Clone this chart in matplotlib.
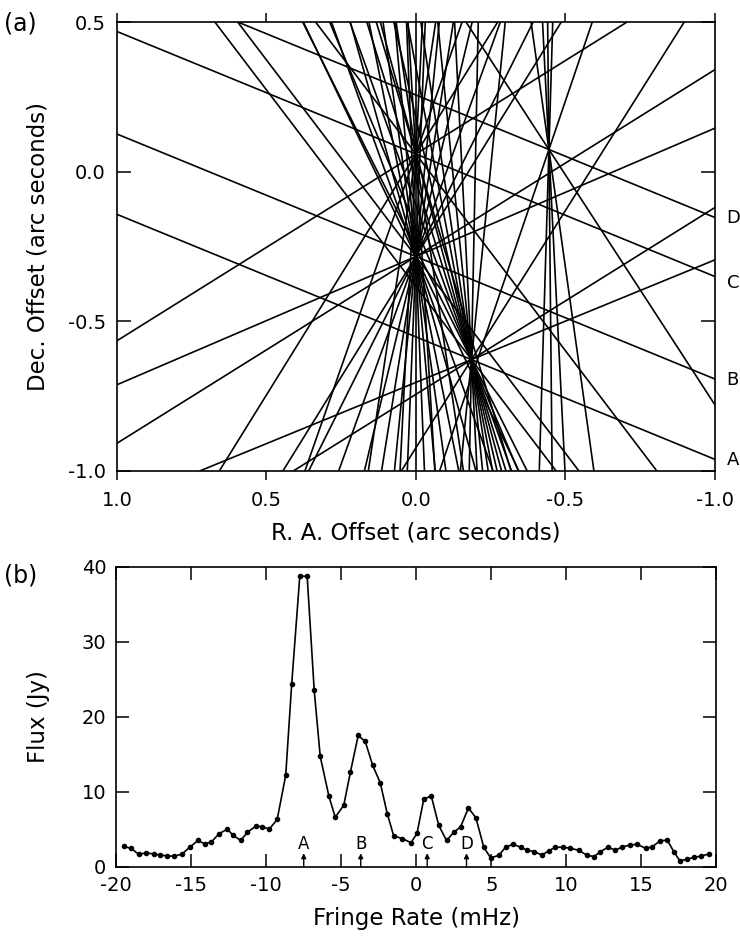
import matplotlib.pyplot as plt
from matplotlib.transforms import blended_transform_factory

plt.rcParams['font.family'] = 'DejaVu Sans'
plt.rcParams['axes.unicode_minus'] = False

# ---------------- (a) fringe-rate constraint lines ----------------
# every feature (A-D) has a position, and each line through it is given
# by its inverse slope dRA/dDec
feat_labels = ['A', 'B', 'C', 'D']
feat_ra = [-0.186, 0.0, 0.0, -0.445]
feat_dec = [-0.628, -0.283, 0.06, 0.075]

k_A = [2.44, -2.44, -1.6, -0.63, 0.76,
       -0.1, -0.02, 0.05, 0.1, 0.15, 0.19, 0.23, 0.27, 0.31, 0.36, 0.42, 0.5]
k_B = [2.44, -2.33, -1.6, -0.62, 0.76,
       -0.5, -0.36, -0.24, -0.16, -0.1, -0.04, 0.0, 0.04, 0.09, 0.14, 0.2,
       0.28, 0.36, 0.48]
k_C = [2.44, -1.6, -0.62, 0.76,
       -0.35, -0.15, -0.05, 0.06, 0.15, 0.3]
k_D = [2.44, 0.65, -0.34, -0.03, 0.01, 0.05, 0.14]
k_lists = [k_A, k_B, k_C, k_D]

# dec where the labelled lines (one spectrum) hit the right border
edge_dec = [-0.963, -0.695, -0.372, -0.154]

ra_ticks = [1.0, 0.5, 0.0, -0.5, -1.0]
dec_ticks = [-1.0, -0.5, 0.0, 0.5]

# ---------------- (b) fringe-rate spectrum ----------------
rate = [-19.5, -19.0, -18.5, -18.0, -17.5, -17.05, -16.6, -16.15, -15.6, -15.1,
        -14.55, -14.1, -13.65, -13.15, -12.6, -12.2, -11.7, -11.25, -10.7, -10.25,
        -9.8, -9.27, -8.7, -8.3, -7.76, -7.27, -6.8, -6.4, -5.82, -5.4,
        -4.83, -4.39, -3.87, -3.4, -2.9, -2.4, -1.93, -1.5, -0.92, -0.35,
        0.05, 0.5, 1.0, 1.5, 2.02, 2.5, 2.95, 3.48, 3.98, 4.5,
        4.95, 5.5, 5.95, 6.46, 6.95, 7.4, 7.88, 8.39, 8.84, 9.28,
        9.8, 10.28, 10.84, 11.35, 11.84, 12.28, 12.77, 13.28, 13.73, 14.28,
        14.73, 15.28, 15.73, 16.24, 16.73, 17.17, 17.57, 18.06, 18.5, 18.95, 19.5]
flux = [2.7, 2.45, 1.65, 1.85, 1.7, 1.55, 1.45, 1.4, 1.7, 2.6,
        3.5, 3.05, 3.3, 4.4, 5.0, 4.2, 3.5, 4.6, 5.4, 5.35,
        5.0, 6.3, 12.2, 24.4, 38.8, 38.7, 23.5, 14.7, 9.4, 6.6,
        8.2, 12.6, 17.5, 16.7, 13.5, 11.2, 7.05, 4.1, 3.75, 3.2,
        4.45, 9.0, 9.45, 5.5, 3.5, 4.6, 5.3, 7.85, 6.5, 2.6,
        1.2, 1.5, 2.6, 3.0, 2.6, 2.2, 2.0, 1.55, 2.15, 2.6,
        2.6, 2.45, 2.2, 1.55, 1.35, 2.0, 2.6, 2.2, 2.65, 2.9,
        3.0, 2.45, 2.65, 3.45, 3.55, 2.0, 0.8, 1.0, 1.25, 1.4, 1.7]
arrow_rate = [-7.5, -3.7, 0.73, 3.35]

fig = plt.figure(figsize=(7.4, 9.36), dpi=100)

# top panel
ax1 = fig.add_axes([0.158, 0.497, 0.808, 0.479])
for ra0, dec0, ks in zip(feat_ra, feat_dec, k_lists):
    for k in ks:
        ax1.axline((ra0, dec0), (ra0 + k, dec0 + 1.0), color='black', lw=1.2)

ax1.set_xlim(1.0, -1.0)
ax1.set_ylim(-1.0, 0.5)
ax1.set_xticks(ra_ticks)
ax1.set_xticklabels(['%.1f' % v for v in ra_ticks])
ax1.set_yticks(dec_ticks)
ax1.set_yticklabels(['%.1f' % v for v in dec_ticks])
ax1.tick_params(axis='x', direction='out', top=True, length=6.5, width=1.1,
                labelsize=14, pad=8)
ax1.tick_params(axis='y', direction='in', right=True, length=10, width=1.1,
                labelsize=14, pad=8)
for s in ax1.spines.values():
    s.set_linewidth(1.2)
ax1.set_xlabel('R. A. Offset (arc seconds)', fontsize=16.5)
ax1.set_ylabel('Dec. Offset (arc seconds)', fontsize=16.5)
ax1.xaxis.set_label_coords(0.5, -0.113)
ax1.yaxis.set_label_coords(-0.112, 0.5)

tr = blended_transform_factory(ax1.transAxes, ax1.transData)
for lab, d in zip(feat_labels, edge_dec):
    ax1.text(1.03, d, lab, transform=tr, ha='center', va='center', fontsize=13)

# bottom panel
ax2 = fig.add_axes([0.157, 0.074, 0.811, 0.3205])
ax2.plot(rate, flux, '-o', color='black', lw=1.2, ms=3)
ax2.set_xlim(-20, 20)
ax2.set_ylim(0, 40)
ax2.set_xticks(range(-20, 21, 5))
ax2.set_yticks(range(0, 41, 10))
ax2.tick_params(direction='in', top=True, right=True, length=9.5, width=1.1,
                labelsize=14, pad=7)
for s in ax2.spines.values():
    s.set_linewidth(1.2)
ax2.set_xlabel('Fringe Rate (mHz)', fontsize=16.5)
ax2.set_ylabel('Flux (Jy)', fontsize=16.5)
ax2.xaxis.set_label_coords(0.5, -0.134)
ax2.yaxis.set_label_coords(-0.11, 0.5)

for lab, x in zip(feat_labels, arrow_rate):
    ax2.annotate('', xy=(x, 1.8), xytext=(x, 0),
                 arrowprops=dict(arrowstyle='-|>', color='black', lw=1.0,
                                 mutation_scale=7, shrinkA=0, shrinkB=0))
    ax2.text(x, 3.0, lab, ha='center', va='center', fontsize=12)

fig.text(0.006, 1 - 24 / 936, '(a)', fontsize=17, va='center')
fig.text(0.006, 1 - 575 / 936, '(b)', fontsize=17, va='center')

fig.savefig('out.png', dpi=100)
